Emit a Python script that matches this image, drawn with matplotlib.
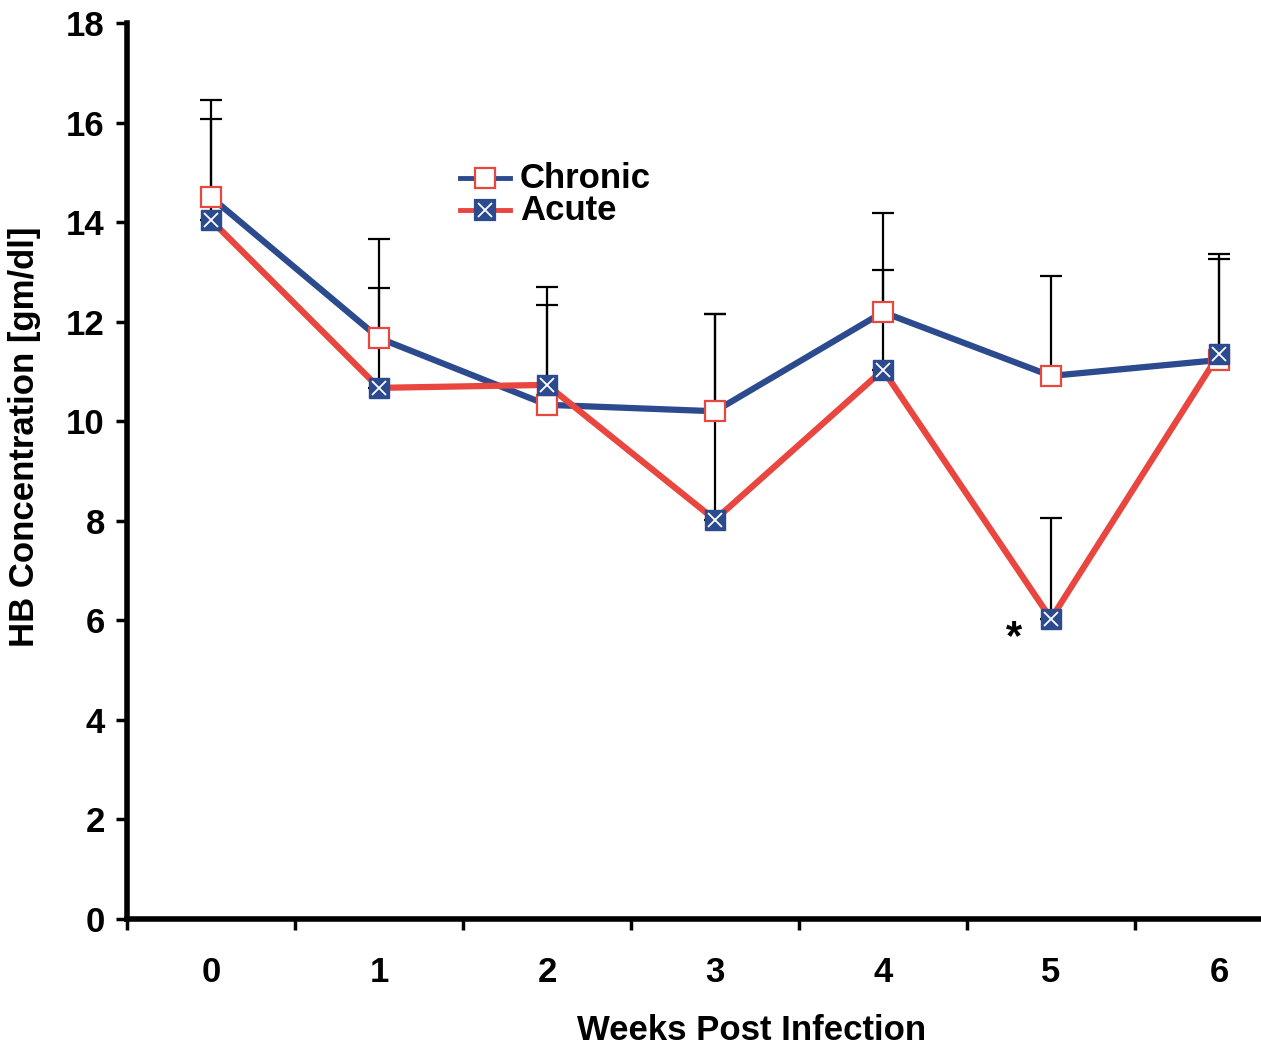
import matplotlib
matplotlib.use("Agg")
import matplotlib.pyplot as plt
import numpy as np

plt.rcParams['font.family'] = ['Liberation Sans', 'DejaVu Sans']

weeks = ["0", "1", "2", "3", "4", "5", "6"]
chronic_mean = [14.5, 11.67, 10.33, 10.2, 12.19, 10.91, 11.23]
chronic_err = [1.95, 2.0, 2.0, 1.95, 1.99, 2.01, 2.13]
acute_mean = [14.04, 10.67, 10.73, 8.02, 11.03, 6.03, 11.35]
acute_err = [2.03, 2.01, 1.97, 4.13, 2.01, 2.03, 1.91]

blue = "#2c4a8e"
red = "#e8463f"

fig = plt.figure(figsize=(12.61, 10.48), dpi=100)
ax = fig.add_axes([127 / 1261, 129 / 1048, 1176 / 1261, 896 / 1048])
x = np.arange(len(weeks))

# upper-only error bars (SD), drawn beneath the lines
ax.errorbar(x, chronic_mean, yerr=[np.zeros(len(x)), chronic_err], fmt="none",
            ecolor="black", elinewidth=1.6, capsize=8, capthick=1.6, zorder=1)
ax.errorbar(x, acute_mean, yerr=[np.zeros(len(x)), acute_err], fmt="none",
            ecolor="black", elinewidth=1.6, capsize=8, capthick=1.6, zorder=1)

ax.plot(x, chronic_mean, color=blue, lw=4.5, zorder=2)
ax.plot(x, acute_mean, color=red, lw=4.5, zorder=3)
ax.plot(x, chronic_mean, ls="none", marker="s", ms=15, mfc="white",
        mec=red, mew=1.6, zorder=4)
ax.plot(x, acute_mean, ls="none", marker="s", ms=15, mfc=blue,
        mec=blue, mew=1.0, zorder=5)
ax.plot(x, acute_mean, ls="none", marker="x", ms=10, mec="white",
        mew=1.3, zorder=6)

ax.text(4.78, 5.65, "*", fontsize=30, fontweight="bold", ha="center", va="center")

# legend drawn by hand
lx0, lx1 = 1.48, 1.78
for yy, col, face, edge, cross in [(14.88, blue, "white", red, False),
                                    (14.24, red, blue, blue, True)]:
    ax.plot([lx0, lx1], [yy, yy], color=col, lw=3.5, zorder=7, clip_on=False)
    ax.plot([(lx0 + lx1) / 2], [yy], marker="s", ms=15, mfc=face, mec=edge,
            mew=1.6, zorder=8, clip_on=False)
    if cross:
        ax.plot([(lx0 + lx1) / 2], [yy], marker="x", ms=10, mec="white",
                mew=1.3, zorder=9, clip_on=False)
ax.text(1.84, 14.88, "Chronic", fontsize=25, fontweight="bold", va="center")
ax.text(1.84, 14.24, "Acute", fontsize=25, fontweight="bold", va="center")

ax.set_xlim(-0.5, 6.5)
ax.set_ylim(0, 18)
ax.set_yticks(np.arange(0, 19, 2))
ax.set_xticks(x)
ax.set_xticklabels(weeks)
ax.set_xticks(np.arange(-0.5, 6.0, 1.0), minor=True)
ax.tick_params(axis="x", which="major", length=0, pad=27, labelsize=25)
ax.tick_params(axis="x", which="minor", length=8, width=2.5, direction="out")
ax.tick_params(axis="y", length=8, width=2.5, direction="out", pad=8, labelsize=25)
for lab in ax.get_xticklabels() + ax.get_yticklabels():
    lab.set_fontweight("bold")

for s in ["top", "right"]:
    ax.spines[s].set_visible(False)
for s in ["left", "bottom"]:
    ax.spines[s].set_linewidth(4)

fig.text(752 / 1261, 1 - 1030 / 1048, "Weeks Post Infection", fontsize=25,
         fontweight="bold", ha="center", va="center")
fig.text(25 / 1261, 1 - 437 / 1048, "HB Concentration [gm/dl]", fontsize=25,
         fontweight="bold", ha="center", va="center", rotation=90)

fig.savefig("out.png", dpi=100)
